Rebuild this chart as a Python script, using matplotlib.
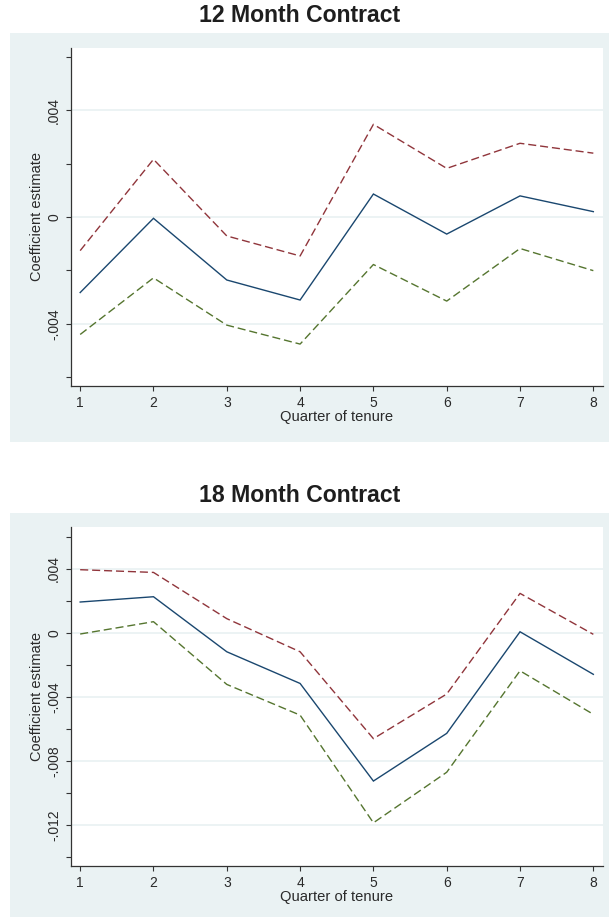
import matplotlib
matplotlib.use("Agg")
import matplotlib.pyplot as plt
from matplotlib.patches import Rectangle
from matplotlib.ticker import FixedLocator, FuncFormatter

plt.rcParams['font.family'] = ['Liberation Sans', 'DejaVu Sans']
plt.rcParams['lines.scale_dashes'] = False

quarters = [1, 2, 3, 4, 5, 6, 7, 8]

# 12 month contract
coef_12 = [-0.00283, -0.00005, -0.00236, -0.00311, 0.00086, -0.00064, 0.00079, 0.00020]
upper_12 = [-0.00126, 0.00216, -0.00071, -0.00146, 0.00347, 0.00182, 0.00276, 0.00239]
lower_12 = [-0.00440, -0.00228, -0.00405, -0.00476, -0.00178, -0.00315, -0.00118, -0.00201]

# 18 month contract
coef_18 = [0.00192, 0.00225, -0.00119, -0.00317, -0.00927, -0.00629, 0.00006, -0.00260]
upper_18 = [0.00394, 0.00377, 0.00088, -0.00119, -0.00662, -0.00383, 0.00246, -0.00010]
lower_18 = [-0.00008, 0.00069, -0.00323, -0.00515, -0.01188, -0.00872, -0.00238, -0.00510]

titles = ["12 Month Contract", "18 Month Contract"]
xlabel = "Quarter of tenure"
ylabel = "Coefficient estimate"

yticks_12 = [-0.004, 0.0, 0.004]
yminor_12 = [-0.006, -0.002, 0.002, 0.006]
yticks_18 = [-0.012, -0.008, -0.004, 0.0, 0.004]
yminor_18 = [-0.014, -0.010, -0.006, -0.002, 0.002, 0.006]

W, H = 609, 917
BG = '#eaf2f3'
NAVY = '#1a476f'
MAROON = '#90353b'
GREEN = '#55752f'
AXC = '#333333'

fig = plt.figure(figsize=(W / 100, H / 100), dpi=100)
fig.patch.set_facecolor('white')

def fx(px):
    return px / W

def fy(py):
    return 1 - py / H

# outer panel backgrounds (pixel boxes: x0, y0, x1, y1)
boxes = [(10, 33.3, 609, 441.7), (10, 512.7, 609, 917)]
for (x0, y0, x1, y1) in boxes:
    fig.patches.append(Rectangle((fx(x0), fy(y1)), fx(x1 - x0), (y1 - y0) / H,
                                 transform=fig.transFigure, facecolor=BG,
                                 edgecolor='none', zorder=-10))

axes_px = [(70.5, 47.7, 603.3, 386.0), (70.5, 527.3, 603.3, 866.0)]
title_y = [15.7, 495.0]
ylims = [(-0.00633, 0.00634), (-0.01458, 0.00659)]
data = [(coef_12, upper_12, lower_12, yticks_12, yminor_12),
        (coef_18, upper_18, lower_18, yticks_18, yminor_18)]

def fmt(v, pos=None):
    if abs(v) < 1e-12:
        return "0"
    s = ("%.3f" % v)
    s = s.replace("0.", ".")
    return s

for i in range(2):
    x0, y0, x1, y1 = axes_px[i]
    ax = fig.add_axes([fx(x0), fy(y1), fx(x1 - x0), (y1 - y0) / H], zorder=1)
    ax.set_facecolor('white')
    coef, up, lo, maj, mnr = data[i]
    ax.plot(quarters, coef, color=NAVY, lw=1.0, solid_joinstyle='miter', zorder=3)
    ax.plot(quarters, up, color=MAROON, lw=1.0, dashes=(5.8, 2.8), zorder=3)
    ax.plot(quarters, lo, color=GREEN, lw=1.0, dashes=(5.8, 2.8), zorder=3)

    ax.set_xlim(0.868, 8.136)
    ax.set_ylim(*ylims[i])
    ax.set_xticks(quarters)
    ax.set_xticklabels([str(q) for q in quarters])
    ax.yaxis.set_major_locator(FixedLocator(maj))
    ax.yaxis.set_major_formatter(FuncFormatter(fmt))
    ax.yaxis.set_minor_locator(FixedLocator(mnr))
    ax.grid(axis='y', which='major', color=BG, lw=1.3, zorder=1)
    ax.set_axisbelow(True)

    for s in ['top', 'right']:
        ax.spines[s].set_visible(False)
    for s in ['left', 'bottom']:
        ax.spines[s].set_color(AXC)
        ax.spines[s].set_linewidth(0.9)

    ax.tick_params(axis='x', which='major', direction='out', length=3.8, width=0.8,
                   color=AXC, labelsize=10, labelcolor='#2a2a2a', pad=3.2)
    ax.tick_params(axis='y', which='both', direction='out', length=3.8, width=0.8,
                   color=AXC, labelsize=10, labelcolor='#2a2a2a')
    for lab in ax.get_yticklabels():
        lab.set_rotation(90)
        lab.set_va('center')
        lab.set_ha('center')
    ax.tick_params(axis='y', pad=8.0)

    ax.set_xlabel(xlabel, fontsize=10.6, color='#2a2a2a', va='center')
    ax.xaxis.set_label_coords(0.5, -31.5 / (y1 - y0))
    ax.set_ylabel(ylabel, fontsize=10.5, color='#2a2a2a', va='center')
    ax.yaxis.set_label_coords((37.0 - x0) / (x1 - x0), 0.5)

    fig.text(fx(300), fy(title_y[i]), titles[i], ha='center', va='center',
             fontsize=16.6, fontweight='bold', color='#1e1e1e')

fig.savefig("out.png", dpi=100, facecolor='white')
